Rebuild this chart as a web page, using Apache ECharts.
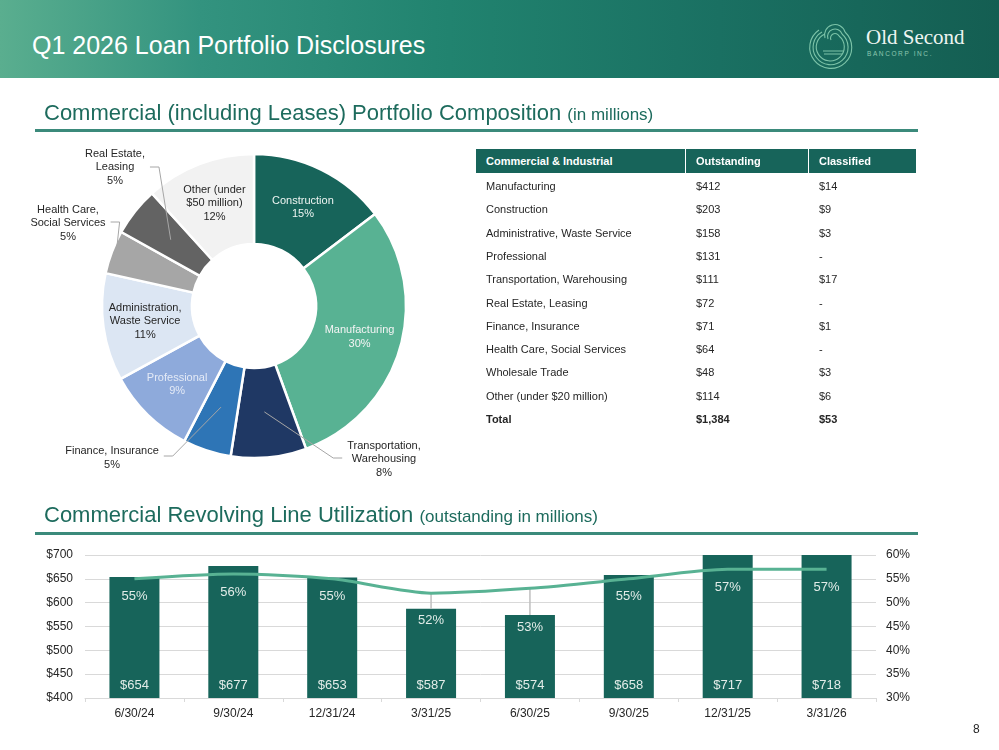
<!DOCTYPE html>
<html>
<head>
<meta charset="utf-8">
<script src="https://cdn.jsdelivr.net/npm/echarts@6/dist/echarts.min.js"></script>
<style>
body{margin:0;width:999px;height:750px;position:relative;overflow:hidden;background:#fff;font-family:"Liberation Sans",Arial,sans-serif;color:#262626;}
#hdr{position:absolute;left:0;top:0;width:999px;height:78px;background:linear-gradient(90deg,#5aae8f 0%,#33937f 20%,#21836f 45%,#1a7062 72%,#145e52 100%);}
#hdr h1{position:absolute;left:32px;top:33px;margin:0;font-weight:normal;font-size:25px;line-height:25px;color:#fff;white-space:nowrap;}
#logo{position:absolute;left:806px;top:6px;}
.sec{position:absolute;left:44px;color:#1d6b5d;font-size:22px;line-height:22px;white-space:nowrap;}
.sec small{font-size:17px;}
.rule{position:absolute;left:35px;width:883px;height:2.5px;background:#3b8a7b;}
#chart{position:absolute;left:0;top:0;width:999px;height:750px;}
.cell{position:absolute;font-size:11px;line-height:14px;white-space:nowrap;}
.th{position:absolute;background:#17645a;color:#fff;font-weight:bold;font-size:11px;height:24px;line-height:24px;box-sizing:border-box;padding-left:10px;}
#pg{position:absolute;left:973px;top:722px;font-size:12px;}
</style>
</head>
<body>
<div id="chart"></div>
<div id="hdr">
  <h1>Q1 2026 Loan Portfolio Disclosures</h1>
  <svg id="logo" width="190" height="66" viewBox="0 0 190 66">
    <g fill="none" stroke="#7cc3a8" stroke-width="1.1">
      <path d="M39 26 A21 21 0 1 1 13 24"/>
      <path d="M36 28 A17.5 17.5 0 1 1 16 26"/>
      <path d="M33 30 A14 14 0 1 1 19 28"/>
      <path d="M19 32 A10 10 0 1 1 39 26"/>
      <path d="M22 33 A7 7 0 1 1 36 28"/>
      <path d="M25 34 A4 4 0 1 1 33 30"/>
      <path d="M17 45 L37 45 M18 48 L36 48"/>
    </g>
    <text x="60" y="38" font-family="Liberation Serif, serif" font-size="21" fill="#eef5f1">Old Second</text>
    <text x="61" y="50" font-family="Liberation Sans, sans-serif" font-size="6.5" letter-spacing="1.6" fill="#8cc7b0">BANCORP INC.</text>
  </svg>
</div>
<div class="sec" style="top:102px">Commercial (including Leases) Portfolio Composition <small>(in millions)</small></div>
<div class="rule" style="top:129px"></div>
<div class="sec" style="top:504px">Commercial Revolving Line Utilization <small>(outstanding in millions)</small></div>
<div class="rule" style="top:532px"></div>
<div id="tbl"></div>
<div id="pg">8</div>
<script>
// pie: commercial composition (outstanding $M)
var sectors = ['Construction', 'Manufacturing', 'Transportation,\nWarehousing', 'Finance, Insurance', 'Professional',
	'Administration,\nWaste Service', 'Health Care,\nSocial Services', 'Real Estate,\nLeasing', 'Other (under\n$50 million)'];
var sectorValues = [203, 412, 111, 71, 131, 158, 64, 72, 162];
var sectorColors = ['#17645a', '#58b293', '#1f3864', '#2e75b6', '#8eaadb', '#dce6f3', '#a6a6a6', '#636363', '#f2f2f2'];

// table
var tableHead = ['Commercial & Industrial', 'Outstanding', 'Classified'];
var tableRows = ['Manufacturing', 'Construction', 'Administrative, Waste Service', 'Professional', 'Transportation, Warehousing',
	'Real Estate, Leasing', 'Finance, Insurance', 'Health Care, Social Services', 'Wholesale Trade', 'Other (under $20 million)'];
var tableOutstanding = [412, 203, 158, 131, 111, 72, 71, 64, 48, 114];
var tableClassified = [14, 9, 3, null, 17, null, 1, null, 3, 6];

// bars + line
var quarters = ['6/30/24', '9/30/24', '12/31/24', '3/31/25', '6/30/25', '9/30/25', '12/31/25', '3/31/26'];
var lineOutstanding = [654, 677, 653, 587, 574, 658, 717, 718];
var utilization = [55, 56, 55, 52, 53, 55, 57, 57];

var FONT = '"Liberation Sans", Arial, sans-serif';

// ---- table ----
function money(v) { return '$' + v.toLocaleString('en-US'); }
var tbl = document.getElementById('tbl');
var colX = [476, 686, 809], colW = [209, 122, 107];
tableHead.forEach(function(h, i) {
	var d = document.createElement('div');
	d.className = 'th';
	d.style.left = colX[i] + 'px'; d.style.top = '149px'; d.style.width = colW[i] + 'px';
	d.textContent = h;
	tbl.appendChild(d);
});
function addRow(r, vals, bold) {
	vals.forEach(function(t, c) {
		var d = document.createElement('div');
		d.className = 'cell';
		d.style.left = (colX[c] + 10) + 'px';
		d.style.top = (179 + r * 23.3) + 'px';
		if (bold) d.style.fontWeight = 'bold';
		d.textContent = t;
		tbl.appendChild(d);
	});
}
tableRows.forEach(function(name, i) {
	addRow(i, [name, money(tableOutstanding[i]), tableClassified[i] == null ? '-' : money(tableClassified[i])]);
});
var totOut = tableOutstanding.reduce(function(a, b) { return a + b; }, 0);
var totCls = tableClassified.reduce(function(a, b) { return a + (b || 0); }, 0);
addRow(tableRows.length, ['Total', money(totOut), money(totCls)], true);

// ---- chart ----
var cx = 254, cy = 306, r0 = 62, r1 = 152;
var insideColors = {0: '#eef5f2', 1: '#f4f4f4', 4: '#e4eaf6', 5: '#262626', 8: '#262626'};
// where the outside labels sit and how their leader lines attach
var outside = {
	2: {x: 384, y: 459, side: 'left', dy: -1, start: 0.7},
	3: {x: 112, y: 458, side: 'right', dy: -2, start: 0.7},
	6: {x: 68, y: 223, side: 'right', dy: -1, start: 0.97},
	7: {x: 115, y: 167, side: 'right', dy: 0, start: 0.7}
};

function pctLabel(p) { return p.name + '\n' + Math.round(p.percent) + '%'; }

// slices + inside labels
var pieData = sectors.map(function(n, i) {
	return {name: n, value: sectorValues[i], itemStyle: {color: sectorColors[i]},
		label: outside[i] ? {show: false} : {show: true, color: insideColors[i]}};
});
// transparent copy on top that carries the outside labels, so leader lines run over the slices
var pieLabelData = sectors.map(function(n, i) {
	return {name: n, value: sectorValues[i],
		label: outside[i] ? {show: true} : {show: false},
		labelLine: {show: !!outside[i]}};
});

var yMin = 400, yMax = 700, pMin = 30, pMax = 60;
function toRight(v) { return pMin + (v - yMin) / (yMax - yMin) * (pMax - pMin); }

var myChart = echarts.init(document.getElementById('chart'));
var option = {
	animation: false,
	textStyle: {fontFamily: FONT},
	grid: {left: 85, right: 123, top: 555, bottom: 52},
	xAxis: {
		type: 'category',
		data: quarters,
		axisLine: {lineStyle: {color: '#d9d9d9'}},
		axisTick: {show: true, length: 4, lineStyle: {color: '#d9d9d9'}},
		axisLabel: {color: '#262626', fontSize: 12, margin: 10}
	},
	yAxis: [{
		type: 'value', min: yMin, max: yMax, interval: 50,
		axisLabel: {color: '#262626', fontSize: 12, margin: 12, formatter: '${value}'},
		splitLine: {lineStyle: {color: '#d9d9d9'}},
		axisLine: {show: false}, axisTick: {show: false}
	}, {
		type: 'value', min: pMin, max: pMax, interval: 5,
		axisLabel: {color: '#262626', fontSize: 12, margin: 10, formatter: '{value}%'},
		splitLine: {show: false},
		axisLine: {show: false}, axisTick: {show: false}
	}],
	series: [{
		type: 'pie',
		center: [cx, cy],
		radius: [r0, r1],
		startAngle: 90,
		avoidLabelOverlap: false,
		silent: true,
		itemStyle: {borderColor: '#fff', borderWidth: 2.5},
		label: {position: 'inside', fontSize: 11, lineHeight: 13.5, align: 'center', formatter: pctLabel},
		labelLine: {show: false},
		data: pieData
	}, {
		type: 'pie',
		z: 3,
		center: [cx, cy],
		radius: [r0, r1],
		startAngle: 90,
		avoidLabelOverlap: false,
		silent: true,
		itemStyle: {color: 'rgba(0,0,0,0)', borderWidth: 0},
		label: {position: 'outside', color: '#262626', fontSize: 11, lineHeight: 13.5, align: 'center', formatter: pctLabel},
		labelLine: {lineStyle: {color: '#a6a6a6', width: 1}},
		labelLayout: function(params) {
			var o = outside[params.dataIndex];
			if (!o || !params.labelLinePoints) return {};
			var w = params.labelRect.width;
			var p0 = params.labelLinePoints[0];
			var s = [cx + (p0[0] - cx) * o.start, cy + (p0[1] - cy) * o.start];
			var ey = o.y + o.dy;
			var end = o.side === 'left' ? [o.x - w / 2 - 5, ey] : [o.x + w / 2 + 5, ey];
			var mid = [end[0] + (o.side === 'left' ? -9 : 9), ey];
			return {x: o.x, y: o.y, align: 'center', verticalAlign: 'middle', labelLinePoints: [s, mid, end]};
		},
		data: pieLabelData
	}, {
		type: 'bar',
		data: lineOutstanding,
		barWidth: 50,
		itemStyle: {color: '#17645a'},
		label: {show: true, position: 'insideBottom', distance: 6, color: '#e2ece8', fontSize: 13,
			formatter: function(p) { return '$' + p.value; }}
	}, {
		type: 'custom',
		yAxisIndex: 1,
		silent: true,
		z: 5,
		data: utilization.map(function(u, i) { return [i, u]; }),
		renderItem: function(params, api) {
			var i = api.value(0), u = api.value(1);
			var p = api.coord([i, u]);
			var top = api.coord([i, toRight(lineOutstanding[i])])[1];
			var ly = Math.max(p[1] + 18, top + 12);
			var kids = [{
				type: 'text',
				x: p[0], y: ly,
				z2: 10,
				style: {text: u + '%', align: 'center', verticalAlign: 'middle',
					fill: '#e2ece8', font: '13px ' + FONT}
			}];
			if (ly - p[1] > 21) {
				kids.unshift({type: 'line', shape: {x1: p[0], y1: p[1], x2: p[0], y2: top},
					style: {stroke: '#bfbfbf', lineWidth: 1.5}});
			}
			return {type: 'group', children: kids};
		}
	}, {
		type: 'line',
		yAxisIndex: 1,
		data: utilization,
		symbol: 'none',
		smooth: 0.25,
		lineStyle: {color: '#58b293', width: 3},
		z: 6
	}]
};
myChart.setOption(option);
</script>
</body>
</html>
